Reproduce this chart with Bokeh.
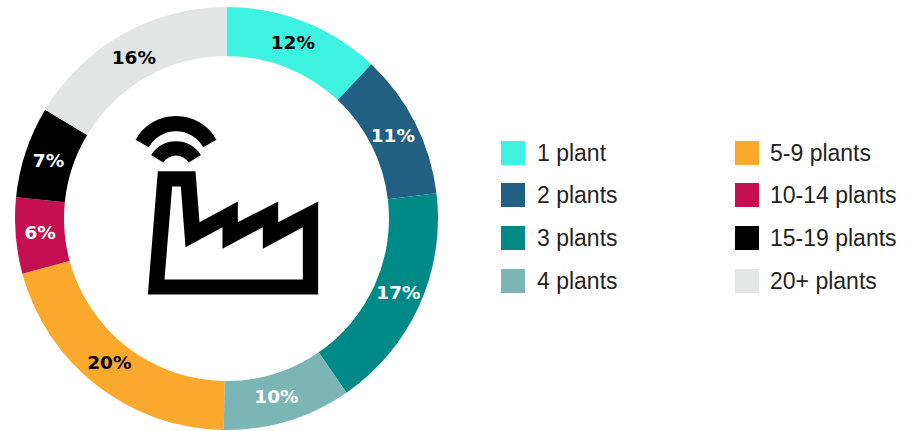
import numpy as np
from bokeh.plotting import figure
from bokeh.models import ColumnDataSource, Range1d
from bokeh.core.properties import value
from bokeh.embed import file_html
from bokeh.resources import INLINE

W, H = 924, 431

categories = ["1 plant", "2 plants", "3 plants", "4 plants",
              "5-9 plants", "10-14 plants", "15-19 plants", "20+ plants"]
shares = [12.0, 11.1, 17.3, 9.8, 20.6, 5.8, 7.0, 16.4]
labels = ["12%", "11%", "17%", "10%", "20%", "6%", "7%", "16%"]
colors = ["#3DF2E0", "#226083", "#008A87", "#7BB5B5",
          "#FBA92D", "#C41050", "#000000", "#E1E6E5"]
label_colors = ["#000000", "#FFFFFF", "#FFFFFF", "#FFFFFF",
                "#000000", "#FFFFFF", "#FFFFFF", "#000000"]
swatch_colors = colors[:7] + ["#E4E5E5"]

CX, CY, R_OUT, R_IN = 226, H - 218, 211.5, 162.5

p = figure(width=W, height=H, output_backend="svg", toolbar_location=None,
           x_range=Range1d(0, W), y_range=Range1d(0, H),
           min_border=0, outline_line_color=None, margin=(0, 0, 0, 0))
p.axis.visible = False
p.grid.visible = False
p.background_fill_color = "white"
p.border_fill_color = "white"

fr = np.array(shares) / sum(shares)
ends = np.cumsum(fr) * 2 * np.pi
starts = ends - fr * 2 * np.pi
mids = (starts + ends) / 2

ring = ColumnDataSource(dict(start=np.pi / 2 - starts, end=np.pi / 2 - ends, color=colors))
p.annular_wedge(x=CX, y=CY, inner_radius=R_IN, outer_radius=R_OUT,
                start_angle="start", end_angle="end", direction="clock",
                fill_color="color", line_color=None, source=ring)

R_LAB = 187
nudge_x = [-2.5, -0.5, 1.5, -4.5, -2.5, 0, -0.5, -0.5]
nudge_y = [-2.5, 1.5, -3, -0.5, -3.5, -1.5, 0.5, 1.5]
text_src = ColumnDataSource(dict(x=CX + R_LAB * np.sin(mids), y=CY + R_LAB * np.cos(mids),
                                 t=labels, c=label_colors, dx=nudge_x, dy=nudge_y))
p.text(x="x", y="y", x_offset="dx", y_offset="dy", text="t", text_color="c",
       text_font=value("DejaVu Sans"), text_font_style="bold", text_font_size="18.5px",
       text_align="center", text_baseline="middle", source=text_src)

# factory icon (decoration), expressed in a 3x crop frame anchored at (120, 110)
def ix(v): return 120 + np.array(v) / 3
def iy(v): return H - (110 + np.array(v) / 3)

out_x = [82, 112, 225, 237, 352, 352, 473, 473, 593, 593]
out_y = [552, 182, 182, 335, 273, 335, 273, 335, 273, 552]
hole_x = [132, 155, 181, 195, 306, 306, 427, 427, 547, 547]
hole_y = [507, 228, 228, 410, 350, 415, 350, 415, 350, 507]
p.multi_polygons(xs=[[[list(ix(out_x)), list(ix(hole_x))]]],
                 ys=[[[list(iy(out_y)), list(iy(hole_y))]]],
                 fill_color="black", line_color=None)

arc_cx, arc_cy = [166.5, 166.5], [155, 180]
arc_in, arc_out = [93, 45], [138.7, 88]
arc_half = [61, 58]
for cx0, cy0, ri, ro, ha in zip(arc_cx, arc_cy, arc_in, arc_out, arc_half):
    p.annular_wedge(x=float(ix(cx0)), y=float(iy(cy0)), inner_radius=ri / 3, outer_radius=ro / 3,
                    start_angle=np.radians(90 - ha), end_angle=np.radians(90 + ha),
                    direction="anticlock", fill_color="black", line_color=None)

# legend
swatch_x = [512.5] * 4 + [746.5] * 4
row_y = [152.5, 194.5, 237.5, 280.5] * 2
text_x = [536.5] * 4 + [769.5] * 4
p.rect(x=swatch_x, y=[H - v for v in row_y], width=24, height=24,
       fill_color=swatch_colors, line_color=None)
p.text(x=text_x, y=[H - v + 0.5 for v in row_y], text=categories, text_color="#231F20",
       text_font=value("Liberation Sans"), text_font_size="23px",
       text_align="left", text_baseline="middle")

open("out.html", "w").write(file_html(p, INLINE))
